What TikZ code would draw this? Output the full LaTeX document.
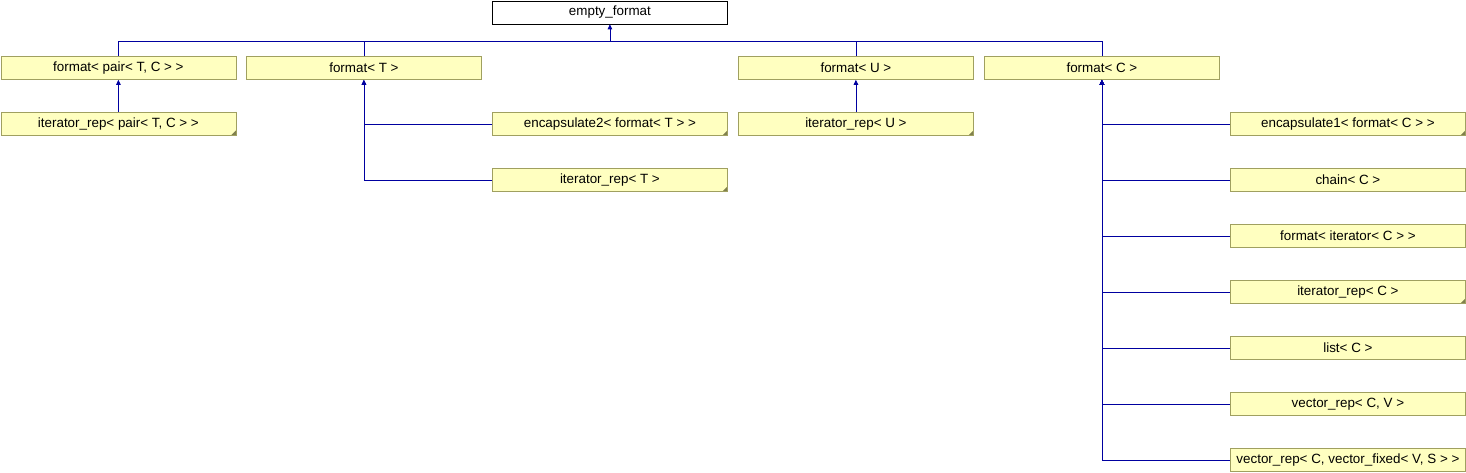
\documentclass[tikz,border=0pt]{standalone}
\usepackage{fontspec}
\setmainfont{Liberation Sans}
\usetikzlibrary{arrows.meta,calc}

\definecolor{classfill}{RGB}{255,255,192}
\definecolor{classedge}{RGB}{160,160,96}
\definecolor{linkblue}{RGB}{0,0,160}

\tikzset{
  cls/.style={draw=classedge, fill=classfill, line width=0.8pt,
    minimum width=235pt, minimum height=23pt, inner sep=0pt,
    anchor=north west, font=\fontsize{13.4}{15}\selectfont},
  clsnote/.style={cls, path picture={
    \fill[classedge!80!black] (path picture bounding box.south east)
      -- ++(-5pt,0pt) -- ++(5pt,5pt) -- cycle;}},
  rootcls/.style={cls, draw=black, fill=white},
  link/.style={draw=linkblue, line width=0.8pt},
  isa/.style={link, -{Triangle[length=5pt,width=4.5pt]}}
}

\begin{document}
\begin{tikzpicture}[x=1pt,y=-1pt]
\useasboundingbox (0,0) rectangle (1466,472);

% Root class
\node[rootcls] (empty) at (492,0.5) {empty\_format};

% First level
\node[cls] (fpair) at (0.5,56) {format< pair< T, C > >};
\node[cls] (fT) at (246,56) {format< T >};
\node[cls] (fU) at (738,56) {format< U >};
\node[cls] (fC) at (984,56) {format< C >};

% Children of format< pair< T, C > > and format< U >
\node[clsnote] (itpair) at (0.5,112) {iterator\_rep< pair< T, C > >};
\node[clsnote] (itU) at (738,112) {iterator\_rep< U >};

% Children of format< T >
\node[clsnote] (enc2) at (492,112) {encapsulate2< format< T > >};
\node[clsnote] (itT) at (492,168) {iterator\_rep< T >};

% Children of format< C >
\node[clsnote] (enc1) at (1230,112) {encapsulate1< format< C > >};
\node[cls] (chain) at (1230,168) {chain< C >};
\node[cls] (fiter) at (1230,224) {format< iterator< C > >};
\node[clsnote] (itC) at (1230,280) {iterator\_rep< C >};
\node[cls] (listC) at (1230,336) {list< C >};
\node[cls] (vec) at (1230,392) {vector\_rep< C, V >};
\node[cls] (vecfix) at (1230,448) {vector\_rep< C, vector\_fixed< V, S > >};

% Bus to the root
\coordinate (bus) at ($(empty.south)+(0,17)$);
\draw[isa] (bus) -- (empty.south);
\foreach \n in {fpair,fT,fU,fC}
  \draw[link] (\n.north) |- (bus);

% Single children
\draw[isa] (itpair.north) -- (fpair.south);
\draw[isa] (itU.north) -- (fU.south);

% Side branches
\foreach \n in {enc2,itT}
  \draw[isa] (\n.west) -| (fT.south);
\foreach \n in {enc1,chain,fiter,itC,listC,vec,vecfix}
  \draw[isa] (\n.west) -| (fC.south);

\end{tikzpicture}
\end{document}
